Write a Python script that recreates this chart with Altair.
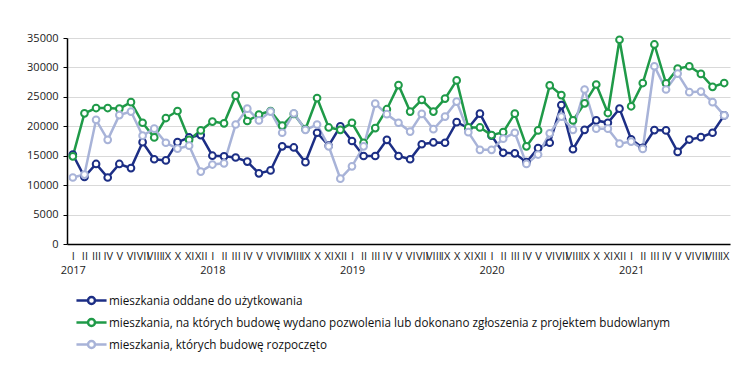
import altair as alt
import pandas as pd

roman = ["I", "II", "III", "IV", "V", "VI", "VII", "VIII", "IX", "X", "XI", "XII"]
years = [2017, 2018, 2019, 2020, 2021]
categories = [f"{roman[i % 12]} {years[i // 12]}" for i in range(57)]

completed = [15200, 11400, 13600, 11300, 13600, 12900, 17300, 14400, 14200, 17300, 18100, 18500,
             15000, 14900, 14700, 14000, 12000, 12500, 16600, 16400, 13900, 18900, 16700, 20000,
             17500, 14950, 14950, 17700, 14950, 14400, 16950, 17250, 17200, 20700, 19700, 22150,
             18400, 15500, 15400, 13900, 16300, 17200, 23600, 16100, 19400, 21000, 20600, 23000,
             17800, 16350, 19350, 19300, 15650, 17750, 18150, 18900, 21850]

permits = [14900, 22200, 23100, 23100, 23000, 24100, 20600, 18100, 21400, 22600, 17700, 19300,
           20800, 20500, 25200, 20900, 22000, 22600, 20100, 22100, 19500, 24800, 19800, 19400,
           20600, 17200, 19700, 22900, 27000, 22500, 24500, 22500, 24700, 27800, 19800, 19800,
           18500, 19000, 22150, 16600, 19300, 26950, 25300, 21000, 23900, 27100, 22250, 34700,
           23400, 27350, 33900, 27300, 29800, 30200, 28900, 26700, 27350]

starts = [11300, 11800, 21100, 17700, 21900, 22500, 18400, 19600, 17200, 16200, 16700, 12300,
          13500, 13700, 20300, 23000, 21000, 22500, 18900, 22200, 19400, 20300, 16600, 11100,
          13200, 16600, 23850, 22050, 20600, 19100, 22100, 19500, 21650, 24200, 19000, 16000,
          16000, 17900, 18900, 13600, 15200, 18800, 21650, 19400, 26250, 19600, 19600, 17050,
          17400, 16150, 30200, 26250, 28950, 25800, 25900, 24100, 21850]

series_names = [
    "mieszkania oddane do użytkowania",
    "mieszkania, na których budowę wydano pozwolenia lub dokonano zgłoszenia z projektem budowlanym",
    "mieszkania, których budowę rozpoczęto",
]
colors = ["#1c2e85", "#1f9a48", "#a8b3d8"]

rows = []
for name, vals in zip(series_names, [completed, permits, starts]):
    for cat, v in zip(categories, vals):
        rows.append({"series": name, "month": cat, "value": v})
df = pd.DataFrame(rows)

label_expr = ("split(datum.label, ' ')[0] == 'I' ? split(datum.label, ' ') : split(datum.label, ' ')[0]")

legend_path = ("M-2.15,0L-0.5,0M0.5,0L2.15,0"
               "M-0.5,0A0.5,0.5 0 1,0 0.5,0A0.5,0.5 0 1,0 -0.5,0Z")

chart = alt.Chart(df).mark_line(
    strokeWidth=2.5,
    point=alt.OverlayMarkDef(filled=False, fill="white", size=45, strokeWidth=2),
).encode(
    x=alt.X("month:N", sort=categories,
            scale=alt.Scale(type="point", padding=0.5),
            axis=alt.Axis(title=None, labelAngle=0, labelExpr=label_expr,
                          labelOverlap=False, ticks=False, domainColor="#000",
                          domainWidth=1.5, labelPadding=6, labelFontSize=11,
                          labelColor="#222", labelLineHeight=14, grid=False,
                          labelBound=False, labelFlush=False)),
    y=alt.Y("value:Q", scale=alt.Scale(domain=[0, 35000], nice=False),
            axis=alt.Axis(title=None, values=list(range(0, 35001, 5000)), format="d",
                          tickSize=4, tickColor="#000", domainColor="#000",
                          domainWidth=1.5, gridColor="#d9d9d9", gridWidth=1.2,
                          labelPadding=5, labelFontSize=11, labelColor="#222")),
    color=alt.Color("series:N", sort=series_names,
                    scale=alt.Scale(domain=series_names, range=colors),
                    legend=alt.Legend(title=None, orient="none", legendX=0, legendY=254,
                                      direction="vertical", symbolType=legend_path,
                                      symbolSize=196, symbolStrokeWidth=2.5,
                                      symbolOffset=16, labelOffset=9, labelFontSize=11.7,
                                      labelColor="#111", rowPadding=5, labelLimit=800,
                                      symbolFillColor="white")),
).properties(
    width=663, height=206,
    autosize=alt.AutoSizeParams(type="none"),
    padding={"left": 59, "top": 30, "right": 6, "bottom": 113},
).configure(font="Open Sans").configure_view(stroke=None)

chart.save("out.html", embed_options={"renderer": "svg", "actions": False})
